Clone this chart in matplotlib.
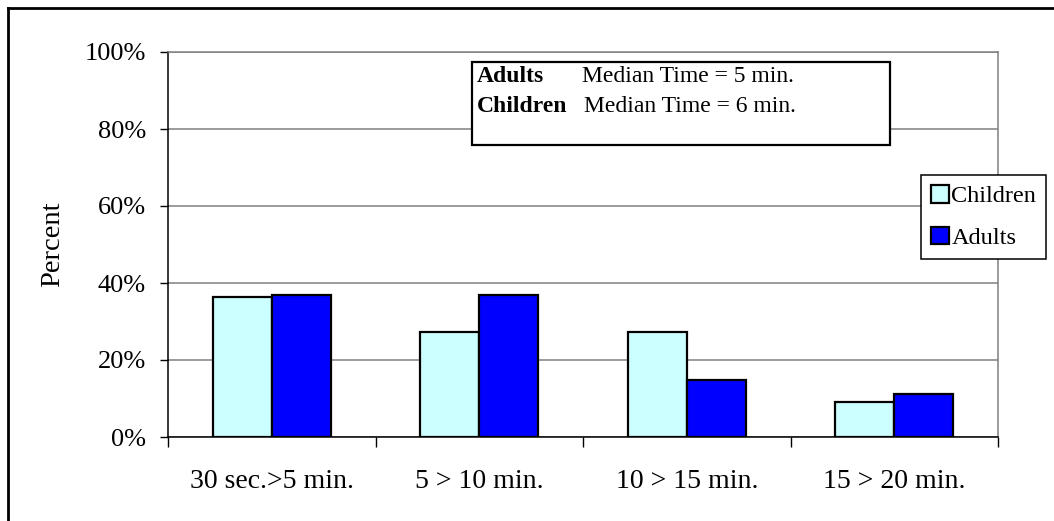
import matplotlib
matplotlib.use('Agg')
import matplotlib.pyplot as plt
from matplotlib.patches import Rectangle
from matplotlib.lines import Line2D
import numpy as np

plt.rcParams['font.family'] = ['Liberation Serif', 'DejaVu Serif']

categories = ['30 sec.>5 min.', '5 > 10 min.', '10 > 15 min.', '15 > 20 min.']
children = [36.4, 27.3, 27.3, 9.1]
adults = [37.0, 37.0, 14.8, 11.1]
yticks = [0, 20, 40, 60, 80, 100]

W, H = 1054, 521
fig = plt.figure(figsize=(W / 100, H / 100), dpi=100)
ax = fig.add_axes([168 / W, 1 - 437 / H, 830 / W, 385 / H])

x = np.arange(len(categories))
bw = 0.284
ax.bar(x - bw / 2, children, bw, color='#CCFFFF', edgecolor='black', linewidth=1.6,
       label='Children', zorder=3)
ax.bar(x + bw / 2, adults, bw, color='#0000FF', edgecolor='black', linewidth=1.6,
       label='Adults', zorder=3)

ax.set_xlim(-0.5, len(categories) - 0.5)
ax.set_ylim(0, 100)
ax.set_yticks(yticks)
ax.set_yticklabels([f'{v}%' for v in yticks], fontsize=19)
ax.yaxis.grid(True, color='#808080', linewidth=1.1, zorder=0)
ax.tick_params(axis='y', direction='out', length=6, width=1, pad=10, color='black')

# ticks between categories, labels at centres
ax.set_xticks(np.arange(-0.5, len(categories), 1.0))
ax.set_xticklabels([])
ax.tick_params(axis='x', which='major', direction='out', length=7, width=1, color='black')
ax.set_xticks(x, minor=True)
ax.set_xticklabels(categories, minor=True, fontsize=20)
ax.tick_params(axis='x', which='minor', length=0, pad=23)

ax.set_ylabel('Percent', fontsize=20.5)
ax.yaxis.set_label_coords(-0.124, 0.5)

ax.spines['left'].set_color('black')
ax.spines['bottom'].set_color('black')
ax.spines['top'].set_color('#808080')
ax.spines['right'].set_color('#808080')
for s in ax.spines.values():
    s.set_linewidth(1.1)

leg = fig.legend(loc='upper left', bbox_to_anchor=(921 / W, 1 - 175 / H),
                 fontsize=17.5, frameon=True, fancybox=False, edgecolor='black',
                 handlelength=0.75, handleheight=0.75, handletextpad=0.1,
                 labelspacing=0.8, borderpad=0.4, borderaxespad=0)
leg.get_frame().set_linewidth(1.1)
leg.get_frame().set_alpha(1)

# median time box
fig.patches.append(Rectangle((472 / W, 1 - 145 / H), 418 / W, 83 / H,
                             transform=fig.transFigure, facecolor='white',
                             edgecolor='black', linewidth=1.6, zorder=5))
fig.text(477 / W, 1 - 76 / H, 'Adults', fontsize=17, fontweight='bold', va='center', zorder=6)
fig.text(582 / W, 1 - 76 / H, 'Median Time = 5 min.', fontsize=17, va='center', zorder=6)
fig.text(477 / W, 1 - 106 / H, 'Children', fontsize=17, fontweight='bold', va='center', zorder=6)
fig.text(584 / W, 1 - 106 / H, 'Median Time = 6 min.', fontsize=17, va='center', zorder=6)

# outer frame
fig.add_artist(Line2D([8 / W, 8 / W], [0, 1 - 8 / H], color='black', linewidth=2,
                      transform=fig.transFigure))
fig.add_artist(Line2D([8 / W, 1], [1 - 8 / H, 1 - 8 / H], color='black', linewidth=2,
                      transform=fig.transFigure))

fig.savefig('out.png', dpi=100)
